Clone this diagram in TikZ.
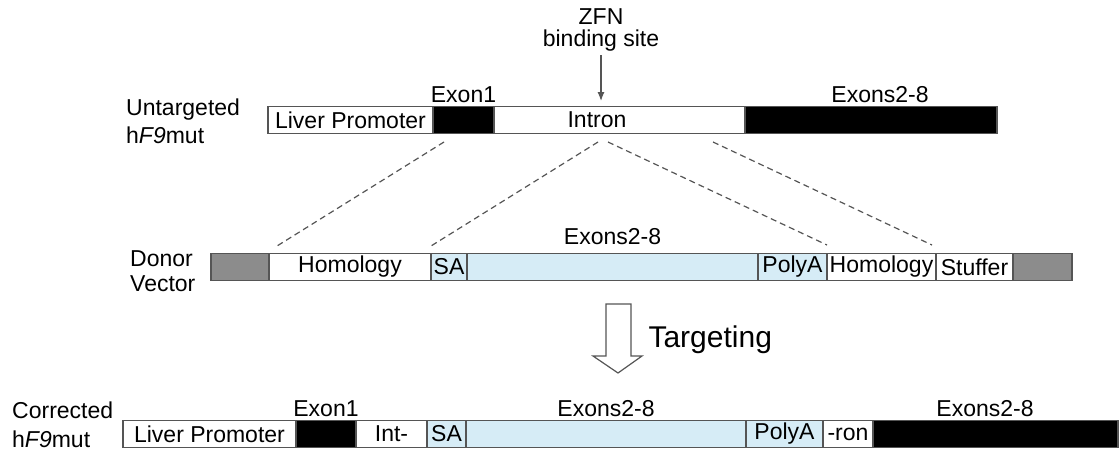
\documentclass[tikz,border=0pt]{standalone}
\usepackage{fontspec}
\setmainfont{Liberation Sans}
\usepackage{tikz}
\usetikzlibrary{arrows.meta}
\definecolor{donorblue}{RGB}{214,236,246}
\definecolor{flankgray}{RGB}{140,140,140}
\definecolor{segline}{RGB}{85,85,85}
\tikzset{>={Latex[length=9pt,width=7pt]}}
\tikzset{
  seg/.style={draw=segline, line width=1.3pt, minimum height=27pt, inner sep=0pt, outer sep=0pt, anchor=west},
  homline/.style={draw=segline, line width=1.2pt, dash pattern=on 6pt off 4pt},
  rowlabel/.style={anchor=base west, inner sep=0pt}
}

\begin{document}
\begin{tikzpicture}[x=1pt, y=-1pt, font=\fontsize{23}{26}\selectfont]
      \useasboundingbox (0,0) rectangle (1120,456);
      % untargeted gene
      \node[rowlabel] (ulab1) at (126,115) {Untargeted};
      \node[rowlabel] (ulab2) at (126,143) {h\textit{F9}mut};
      \node[seg, minimum width=165pt] (lp) at (268,120) {Liver Promoter};
      \node[seg, minimum width=61pt, fill=black] (ex1) at (lp.east) {};
      \node[seg, minimum width=251pt] (intr) at (ex1.east) {};
      \node[seg, minimum width=252pt, fill=black] (exs) at (intr.east) {};
      \node (intrtxt) at (597,120) {Intron};
      \node at (ex1.north) [above] (ex1lab) {Exon1};
      \node at (880,106) [above] (exslab) {Exons2-8};
      \node (zfn) at (601,17) {ZFN};
      \node (bsite) at (601,41) {binding site};
      \coordinate (cut) at (601,101);
      \draw[->, line width=1.2pt, segline] (bsite.south) -- (cut);
      % donor vector
      \node[rowlabel] (dlab1) at (130,266) {Donor};
      \node[rowlabel] (dlab2) at (130,291) {Vector};
      \node[seg, minimum width=58pt, fill=flankgray] (fl1) at (211,267) {};
      \node[seg, minimum width=162pt] (hom1) at (fl1.east) {Homology};
      \node[seg, minimum width=36pt, fill=donorblue] (sa) at (hom1.east) {SA};
      \node[seg, minimum width=291pt, fill=donorblue] (dex) at (sa.east) {};
      \node[seg, minimum width=69pt, fill=donorblue] (pa) at (dex.east) {PolyA};
      \node[seg, minimum width=109pt] (hom2) at (pa.east) {Homology};
      \node[seg, minimum width=77pt] (stf) at (hom2.east) {Stuffer};
      \node[seg, minimum width=59pt, fill=flankgray] (fl2) at (stf.east) {};
      \node at (dex.north) [above, yshift=5pt] (dexlab) {Exons2-8};
      % homology arms
      \coordinate (ua) at (444,142);
      \coordinate (ub) at (598,142);
      \coordinate (uc) at (608,142);
      \coordinate (ud) at (713,142);
      \coordinate (da) at (277,246);
      \coordinate (db) at (431,246);
      \coordinate (dc) at (827,245);
      \coordinate (dd) at (932,245);
      \draw[homline] (ua) -- (da);
      \draw[homline] (ub) -- (db);
      \draw[homline] (uc) -- (dc);
      \draw[homline] (ud) -- (dd);
      % targeting step
      \draw[line width=1.2pt, draw=segline] (606,304) -- (631,304) -- (631,356) -- (642,356) -- (618,373) -- (593,356) -- (606,356) -- cycle;
      \node[anchor=base west, font=\fontsize{30}{34}\selectfont] (tgt) at (645,347) {Targeting};
      % corrected gene
      \node[rowlabel] (clab1) at (12,418) {Corrected};
      \node[rowlabel] (clab2) at (12,447) {h\textit{F9}mut};
      \node[seg, minimum width=173pt] (clp) at (123,434) {Liver Promoter};
      \node[seg, minimum width=60pt, fill=black] (cex1) at (clp.east) {};
      \node[seg, minimum width=71pt] (cint) at (cex1.east) {Int-};
      \node[seg, minimum width=39pt, fill=donorblue] (csa) at (cint.east) {SA};
      \node[seg, minimum width=280pt, fill=donorblue] (cdex) at (csa.east) {};
      \node[seg, minimum width=77pt, fill=donorblue] (cpa) at (cdex.east) {PolyA};
      \node[seg, minimum width=50pt] (cron) at (cpa.east) {-ron};
      \node[seg, minimum width=245pt, fill=black] (cexs) at (cron.east) {};
      \node at (cex1.north) [above] (cex1lab) {Exon1};
      \node at (cdex.north) [above] (cdexlab) {Exons2-8};
      \node at (985,420) [above] (cexslab) {Exons2-8};
    \end{tikzpicture}
\end{document}
